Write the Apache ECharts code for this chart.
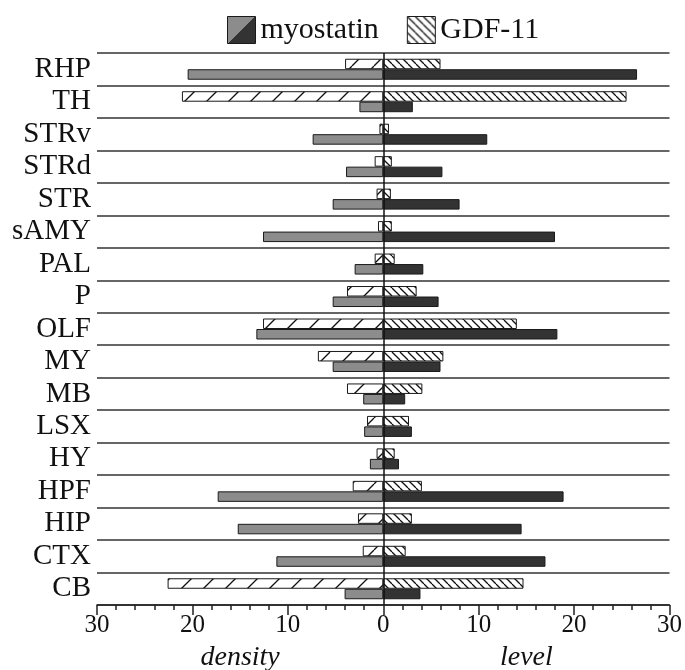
<!DOCTYPE html>
<html>
<head>
<meta charset="utf-8">
<script src="https://cdn.jsdelivr.net/npm/echarts@6/dist/echarts.min.js"></script>
<style>
  html, body { margin: 0; padding: 0; background: #fff; }
  #main { width: 685px; height: 670px; }
</style>
</head>
<body>
<div id="main"></div>
<script>
// brain regions, top to bottom
const categories = ['RHP', 'TH', 'STRv', 'STRd', 'STR', 'sAMY', 'PAL', 'P', 'OLF', 'MY', 'MB', 'LSX', 'HY', 'HPF', 'HIP', 'CTX', 'CB'];
// left half (density)
const gdfDensity = [4.0, 21.1, 0.4, 0.9, 0.7, 0.55, 0.9, 3.8, 12.6, 6.85, 3.8, 1.7, 0.7, 3.2, 2.65, 2.15, 22.6];
const myoDensity = [20.5, 2.5, 7.4, 3.9, 5.3, 12.6, 3.0, 5.3, 13.3, 5.3, 2.1, 2.0, 1.4, 17.35, 15.25, 11.2, 4.05];
// right half (level)
const gdfLevel = [6.0, 25.5, 0.6, 0.9, 0.8, 0.9, 1.2, 3.5, 14.0, 6.3, 4.1, 2.7, 1.2, 4.05, 3.0, 2.35, 14.7];
const myoLevel = [26.6, 3.1, 10.9, 6.2, 8.0, 18.0, 4.2, 5.8, 18.25, 6.0, 2.3, 3.0, 1.65, 18.9, 14.5, 17.0, 3.9];

const FONT = 'Liberation Serif';
const GRAY = '#8c8c8c';
const DARK = '#333333';
const EDGE = '#1a1a1a';

// hatch tile: dir '/' or '\'
function hatch(size, dir) {
  const c = document.createElement('canvas');
  c.width = size;
  c.height = size;
  const ctx = c.getContext('2d');
  ctx.fillStyle = '#fff';
  ctx.fillRect(0, 0, size, size);
  ctx.strokeStyle = '#111';
  ctx.lineWidth = 1.3;
  for (const o of [-size, 0, size]) {
    ctx.beginPath();
    if (dir === '/') {
      ctx.moveTo(o, size);
      ctx.lineTo(o + size, 0);
    } else {
      ctx.moveTo(o, 0);
      ctx.lineTo(o + size, size);
    }
    ctx.stroke();
  }
  return { image: c, repeat: 'repeat' };
}

const leftHatch = hatch(22, '/');
const rightHatch = hatch(8, '\\');

const barBase = {
  type: 'bar',
  barWidth: 10.5,
  barGap: '0%'
};

const option = {
  animation: false,
  grid: { left: 97, right: 13, top: 53, bottom: 65 },
  legend: {
    left: 222,
    top: 10,
    itemWidth: 28,
    itemHeight: 27,
    itemGap: 28,
    icon: 'rect',
    textStyle: { fontFamily: FONT, fontSize: 30, color: '#111' },
    data: [
      {
        name: 'myostatin',
        itemStyle: {
          borderColor: EDGE,
          borderWidth: 1,
          color: {
            type: 'linear', x: 0, y: 0, x2: 1, y2: 1,
            colorStops: [
              { offset: 0, color: GRAY },
              { offset: 0.5, color: GRAY },
              { offset: 0.5, color: DARK },
              { offset: 1, color: DARK }
            ]
          }
        }
      },
      { name: 'GDF-11', itemStyle: { borderColor: EDGE, borderWidth: 1, color: rightHatch } }
    ]
  },
  xAxis: {
    type: 'value',
    min: -30,
    max: 30,
    interval: 10,
    splitLine: { show: false },
    axisLine: { show: true, lineStyle: { color: '#222', width: 1.5 } },
    axisTick: { show: true, length: 10, lineStyle: { color: '#222', width: 1.5 } },
    minorTick: { show: true, splitNumber: 5, length: 5, lineStyle: { color: '#222', width: 1.5 } },
    axisLabel: {
      fontFamily: FONT,
      fontSize: 25,
      color: '#111',
      margin: 8,
      formatter: (v) => Math.abs(v)
    }
  },
  yAxis: {
    type: 'category',
    inverse: true,
    data: categories,
    axisLine: { show: false },
    axisTick: { show: false },
    axisLabel: { interval: 0, fontFamily: FONT, fontSize: 29, color: '#111', margin: 6 },
    splitLine: { show: true, interval: 0, lineStyle: { color: '#333', width: 1.5 } }
  },
  series: [
    Object.assign({}, barBase, {
      name: 'GDF-11', stack: 'gdf',
      itemStyle: { color: leftHatch, borderColor: EDGE, borderWidth: 1 },
      data: gdfDensity.map((v) => -v)
    }),
    Object.assign({}, barBase, {
      name: 'GDF-11', stack: 'gdf',
      itemStyle: { color: rightHatch, borderColor: EDGE, borderWidth: 1 },
      data: gdfLevel
    }),
    Object.assign({}, barBase, {
      name: 'myostatin', stack: 'myo',
      itemStyle: { color: GRAY, borderColor: EDGE, borderWidth: 1 },
      data: myoDensity.map((v) => -v)
    }),
    Object.assign({}, barBase, {
      name: 'myostatin', stack: 'myo',
      itemStyle: { color: DARK, borderColor: EDGE, borderWidth: 1 },
      data: myoLevel,
      markLine: {
        silent: true,
        symbol: ['none', 'none'],
        label: { show: false },
        lineStyle: { color: '#111', type: 'solid', width: 1.5 },
        data: [{ xAxis: 0 }]
      }
    })
  ]
};

const chart = echarts.init(document.getElementById('main'));
chart.setOption(option);

// axis side titles, centred on each half
const leftX = chart.convertToPixel({ xAxisIndex: 0 }, -15);
const rightX = chart.convertToPixel({ xAxisIndex: 0 }, 15);
chart.setOption({
  graphic: [
    { type: 'text', x: leftX, y: 658, style: { text: 'density', font: 'italic 28px "Liberation Serif"', fill: '#111', align: 'center', verticalAlign: 'middle' } },
    { type: 'text', x: rightX, y: 658, style: { text: 'level', font: 'italic 28px "Liberation Serif"', fill: '#111', align: 'center', verticalAlign: 'middle' } }
  ]
});
</script>
</body>
</html>
